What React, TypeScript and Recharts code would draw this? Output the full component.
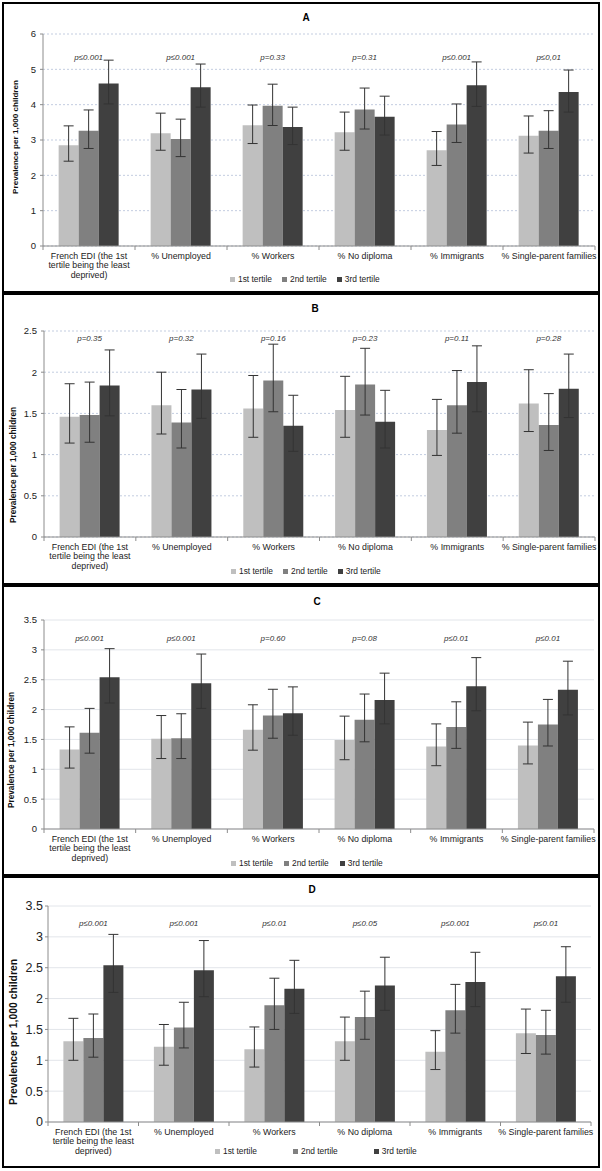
import React from 'react';
import { BarChart, Bar, XAxis, YAxis, CartesianGrid, ErrorBar, LabelList } from 'recharts';

const FONT = '"Liberation Sans", Arial, sans-serif';

const categories = [
  'French EDI (the 1st\ntertile being the least\ndeprived)',
  '% Unemployed',
  '% Workers',
  '% No diploma',
  '% Immigrants',
  '% Single-parent families',
];
const seriesNames = ['1st tertile', '2nd tertile', '3rd tertile'];
const seriesColors = ['#bfbfbf', '#808080', '#404040'];

// Panel A
const aTitle = 'A';
const aTicks = [0, 1, 2, 3, 4, 5, 6];
const aT1 = [2.85, 3.19, 3.42, 3.22, 2.71, 3.12];
const aT1Ci = [[2.4, 3.4], [2.71, 3.76], [2.9, 3.99], [2.71, 3.79], [2.28, 3.24], [2.63, 3.68]];
const aT2 = [3.26, 3.03, 3.97, 3.86, 3.44, 3.26];
const aT2Ci = [[2.76, 3.85], [2.53, 3.59], [3.41, 4.58], [3.31, 4.47], [2.93, 4.02], [2.76, 3.83]];
const aT3 = [4.6, 4.49, 3.37, 3.66, 4.55, 4.36];
const aT3Ci = [[4.02, 5.26], [3.93, 5.15], [2.87, 3.93], [3.14, 4.24], [3.95, 5.21], [3.79, 4.98]];
const aP = ['p≤0.001', 'p≤0.001', 'p=0.33', 'p=0.31', 'p≤0.001', 'p≤0,01'];

// Panel B
const bTitle = 'B';
const bTicks = [0, 0.5, 1, 1.5, 2, 2.5];
const bT1 = [1.46, 1.6, 1.56, 1.54, 1.3, 1.62];
const bT1Ci = [[1.14, 1.86], [1.25, 2.0], [1.21, 1.96], [1.21, 1.95], [0.99, 1.67], [1.28, 2.03]];
const bT2 = [1.48, 1.39, 1.9, 1.85, 1.6, 1.36];
const bT2Ci = [[1.15, 1.88], [1.08, 1.79], [1.52, 2.34], [1.48, 2.29], [1.26, 2.02], [1.05, 1.74]];
const bT3 = [1.84, 1.79, 1.35, 1.4, 1.88, 1.8];
const bT3Ci = [[1.47, 2.27], [1.44, 2.22], [1.04, 1.72], [1.08, 1.78], [1.52, 2.32], [1.45, 2.22]];
const bP = ['p=0.35', 'p=0.32', 'p=0.16', 'p=0.23', 'p=0.11', 'p=0.28'];

// Panel C
const cTitle = 'C';
const cTicks = [0, 0.5, 1, 1.5, 2, 2.5, 3, 3.5];
const cT1 = [1.33, 1.51, 1.66, 1.49, 1.38, 1.4];
const cT1Ci = [[1.02, 1.71], [1.18, 1.9], [1.32, 2.08], [1.16, 1.89], [1.06, 1.76], [1.09, 1.79]];
const cT2 = [1.61, 1.52, 1.9, 1.83, 1.71, 1.75];
const cT2Ci = [[1.27, 2.02], [1.18, 1.93], [1.52, 2.34], [1.46, 2.26], [1.35, 2.13], [1.39, 2.17]];
const cT3 = [2.54, 2.44, 1.94, 2.16, 2.39, 2.33];
const cT3Ci = [[2.11, 3.02], [2.02, 2.93], [1.57, 2.38], [1.76, 2.61], [1.98, 2.87], [1.91, 2.81]];
const cP = ['p≤0.001', 'p≤0.001', 'p=0.60', 'p=0.08', 'p≤0.01', 'p≤0.01'];

// Panel D
const dTitle = 'D';
const dTicks = [0, 0.5, 1, 1.5, 2, 2.5, 3, 3.5];
const dT1 = [1.31, 1.22, 1.18, 1.31, 1.14, 1.44];
const dT1Ci = [[1.0, 1.68], [0.92, 1.58], [0.89, 1.54], [1.0, 1.7], [0.85, 1.48], [1.11, 1.83]];
const dT2 = [1.36, 1.53, 1.89, 1.7, 1.81, 1.41];
const dT2Ci = [[1.05, 1.75], [1.2, 1.94], [1.5, 2.33], [1.34, 2.12], [1.44, 2.23], [1.1, 1.81]];
const dT3 = [2.54, 2.46, 2.16, 2.21, 2.27, 2.36];
const dT3Ci = [[2.1, 3.04], [2.03, 2.94], [1.76, 2.62], [1.81, 2.67], [1.87, 2.75], [1.94, 2.84]];
const dP = ['p≤0.001', 'p≤0.001', 'p≤0.01', 'p≤0.05', 'p≤0.001', 'p≤0.01'];

const yAxisLabel = 'Prevalence per 1,000 children';

function buildRows(
  t1: number[], t1Ci: number[][],
  t2: number[], t2Ci: number[][],
  t3: number[], t3Ci: number[][],
  p: string[],
) {
  return categories.map((cat, i) => ({
    cat,
    t1: t1[i], e1: [t1[i] - t1Ci[i][0], t1Ci[i][1] - t1[i]],
    t2: t2[i], e2: [t2[i] - t2Ci[i][0], t2Ci[i][1] - t2[i]],
    t3: t3[i], e3: [t3[i] - t3Ci[i][0], t3Ci[i][1] - t3[i]],
    p: p[i],
  }));
}

const panels = [
  {
    title: aTitle, ticks: aTicks, rows: buildRows(aT1, aT1Ci, aT2, aT2Ci, aT3, aT3Ci, aP),
    top: 2, bottom: 293, plotTop: 34, plotBottom: 246, plotLeft: 43, plotRight: 595,
    titleX: 306, titleY: 18, pY: 57, legendY: 279, legendLeft: 230, legendGap: 10,
    yLabelX: 15, yLabelY: 137, yLabelSize: 8.1, tickFont: 9.5, tickMargin: 4,
    gridStroke: '#c3cde0', gridDash: '2 2',
  },
  {
    title: bTitle, ticks: bTicks, rows: buildRows(bT1, bT1Ci, bT2, bT2Ci, bT3, bT3Ci, bP),
    top: 293, bottom: 585, plotTop: 331, plotBottom: 537, plotLeft: 44, plotRight: 595,
    titleX: 315, titleY: 309, pY: 338, legendY: 571, legendLeft: 231, legendGap: 10,
    yLabelX: 13.5, yLabelY: 465, yLabelSize: 8.25, tickFont: 9.5, tickMargin: 4,
    gridStroke: '#c3cde0', gridDash: '2 2',
  },
  {
    title: cTitle, ticks: cTicks, rows: buildRows(cT1, cT1Ci, cT2, cT2Ci, cT3, cT3Ci, cP),
    top: 585, bottom: 876, plotTop: 620, plotBottom: 829, plotLeft: 44, plotRight: 594,
    titleX: 317, titleY: 602, pY: 638, legendY: 863, legendLeft: 231, legendGap: 11,
    yLabelX: 11, yLabelY: 750, yLabelSize: 8.25, tickFont: 9.5, tickMargin: 4,
    gridStroke: '#e2e5ea', gridDash: undefined,
  },
  {
    title: dTitle, ticks: dTicks, rows: buildRows(dT1, dT1Ci, dT2, dT2Ci, dT3, dT3Ci, dP),
    top: 876, bottom: 1168, plotTop: 906, plotBottom: 1122, plotLeft: 48, plotRight: 591,
    titleX: 312, titleY: 890, pY: 923, legendY: 1151, legendLeft: 215, legendGap: 36,
    yLabelX: 13, yLabelY: 1032, yLabelSize: 10.4, tickFont: 12.5, tickMargin: 2,
    gridStroke: '#e2e5ea', gridDash: undefined,
  },
];

const AXIS = '#8c8c8c';

function CatTick(props: any) {
  const { x, y, payload, index, bw, last } = props;
  const lines = String(payload.value).split('\n');
  return (
    <g>
      <line x1={x - bw / 2} x2={x - bw / 2} y1={y} y2={y + 4} stroke={AXIS} strokeWidth={1} />
      {index === last && (
        <line x1={x + bw / 2} x2={x + bw / 2} y1={y} y2={y + 4} stroke={AXIS} strokeWidth={1} />
      )}
      <text x={x} y={y + 13} textAnchor="middle" fontSize={8.8} fill="#222" fontFamily={FONT}>
        {lines.map((l, i) => (
          <tspan key={i} x={x} dy={i === 0 ? 0 : 9.4}>{l}</tspan>
        ))}
      </text>
    </g>
  );
}

function Panel({ p }: { p: any }) {
  const height = p.bottom - p.top;
  const bw = (p.plotRight - p.plotLeft) / categories.length;
  const pRel = p.pY - p.top;
  const yMax = p.ticks[p.ticks.length - 1];
  return (
    <>
      <div
        style={{
          position: 'absolute', left: 2, top: p.top, width: 598, height,
          border: '2px solid #000', boxSizing: 'border-box', background: '#fff',
        }}
      />
      <div
        style={{
          position: 'absolute', left: p.titleX - 20, top: p.titleY - 7, width: 40, height: 14,
          lineHeight: '14px', textAlign: 'center', fontFamily: FONT, fontWeight: 'bold',
          fontSize: 10, color: '#000',
        }}
      >
        {p.title}
      </div>
      <div style={{ position: 'absolute', left: 0, top: p.top }}>
        <BarChart
          width={602}
          height={height}
          data={p.rows}
          margin={{ top: p.plotTop - p.top, right: 602 - p.plotRight, left: 0, bottom: 0 }}
          barCategoryGap="17%"
          barGap={0}
        >
          <CartesianGrid vertical={false} stroke={p.gridStroke} strokeDasharray={p.gridDash} />
          <XAxis
            dataKey="cat"
            height={p.bottom - p.plotBottom}
            interval={0}
            tickLine={false}
            tickSize={0}
            tickMargin={0}
            axisLine={{ stroke: AXIS }}
            tick={(tp: any) => <CatTick {...tp} bw={bw} last={categories.length - 1} />}
          />
          <YAxis
            width={p.plotLeft}
            domain={[0, yMax]}
            ticks={p.ticks}
            interval={0}
            allowDataOverflow
            tickSize={3}
            tickMargin={p.tickMargin}
            axisLine={{ stroke: AXIS }}
            tickLine={{ stroke: AXIS }}
            tick={{ fontSize: p.tickFont, fill: '#222', fontFamily: FONT }}
            label={(lp: any) => (
              <text
                x={p.yLabelX}
                y={p.yLabelY - p.top}
                transform={`rotate(-90 ${p.yLabelX} ${p.yLabelY - p.top})`}
                textAnchor="middle"
                dominantBaseline="central"
                fontSize={p.yLabelSize}
                fontWeight="bold"
                fontFamily={FONT}
                fill="#111"
              >
                {yAxisLabel}
              </text>
            )}
          />
          <Bar dataKey="t1" fill={seriesColors[0]} isAnimationActive={false}>
            <ErrorBar dataKey="e1" width={5} stroke="#333" strokeWidth={1} isAnimationActive={false} />
          </Bar>
          <Bar dataKey="t2" fill={seriesColors[1]} isAnimationActive={false}>
            <ErrorBar dataKey="e2" width={5} stroke="#333" strokeWidth={1} isAnimationActive={false} />
            <LabelList
              dataKey="p"
              content={(lp: any) => (
                <text
                  x={Number(lp.x) + Number(lp.width) / 2}
                  y={pRel}
                  textAnchor="middle"
                  dominantBaseline="central"
                  fontSize={8}
                  fontStyle="italic"
                  fontFamily={FONT}
                  fill="#333"
                >
                  {lp.value}
                </text>
              )}
            />
          </Bar>
          <Bar dataKey="t3" fill={seriesColors[2]} isAnimationActive={false}>
            <ErrorBar dataKey="e3" width={5} stroke="#333" strokeWidth={1} isAnimationActive={false} />
          </Bar>
        </BarChart>
      </div>
      <div
        style={{
          position: 'absolute', left: p.legendLeft, top: p.legendY - 6, height: 12,
          display: 'flex', alignItems: 'center', gap: p.legendGap,
          fontFamily: FONT, fontSize: 8.4, color: '#222', whiteSpace: 'nowrap',
        }}
      >
        {seriesNames.map((n, i) => (
          <div key={n} style={{ display: 'flex', alignItems: 'center' }}>
            <span style={{ display: 'inline-block', width: 5, height: 5, background: seriesColors[i], marginRight: 3 }} />
            <span>{n}</span>
          </div>
        ))}
      </div>
    </>
  );
}

export default function App() {
  return (
    <div style={{ position: 'absolute', left: 0, top: 0, width: 602, height: 1171, background: '#fff' }}>
      {panels.map((p) => (
        <Panel key={p.title} p={p} />
      ))}
    </div>
  );
}
